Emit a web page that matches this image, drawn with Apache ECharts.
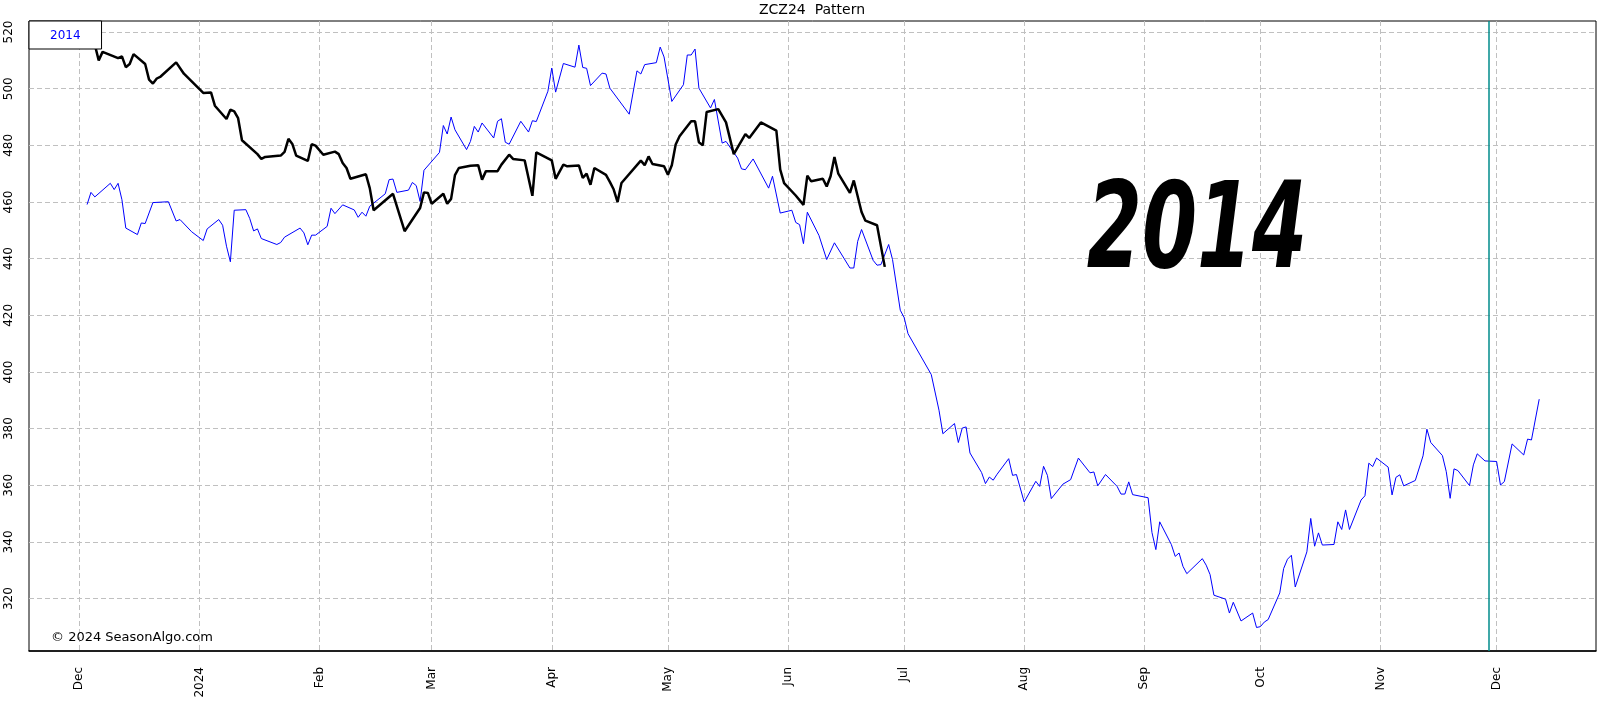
<!DOCTYPE html>
<html>
<head>
<meta charset="utf-8">
<title>ZCZ24 Pattern</title>
<script src="https://cdn.jsdelivr.net/npm/echarts@6/dist/echarts.min.js"></script>
<style>
  html, body { margin: 0; padding: 0; background: #fff; }
  #chart { width: 1604px; height: 709px; }
</style>
</head>
<body>
<div id="chart"></div>
<script>
// 2014 pattern, shifted onto the 2024 calendar
var blueDates = [
  '2023-12-03','2023-12-04','2023-12-05','2023-12-09','2023-12-10','2023-12-11','2023-12-12','2023-12-13',
  '2023-12-16','2023-12-17','2023-12-18','2023-12-20','2023-12-24','2023-12-26','2023-12-27','2023-12-30',
  '2024-01-02','2024-01-03','2024-01-06','2024-01-07','2024-01-08','2024-01-09','2024-01-10','2024-01-13',
  '2024-01-14','2024-01-15','2024-01-16','2024-01-17','2024-01-21','2024-01-22','2024-01-23','2024-01-27',
  '2024-01-28','2024-01-29','2024-01-30','2024-01-31','2024-02-03','2024-02-04','2024-02-05','2024-02-07',
  '2024-02-10','2024-02-11','2024-02-12','2024-02-13','2024-02-14','2024-02-18','2024-02-19','2024-02-20',
  '2024-02-21','2024-02-24','2024-02-25','2024-02-26','2024-02-27','2024-02-28','2024-03-03','2024-03-04',
  '2024-03-05','2024-03-06','2024-03-07','2024-03-10','2024-03-11','2024-03-12','2024-03-13','2024-03-14',
  '2024-03-17','2024-03-18','2024-03-19','2024-03-20','2024-03-21','2024-03-24','2024-03-26','2024-03-27',
  '2024-03-28','2024-03-31','2024-04-01','2024-04-02','2024-04-04','2024-04-07','2024-04-08','2024-04-09',
  '2024-04-10','2024-04-11','2024-04-14','2024-04-15','2024-04-16','2024-04-21','2024-04-23','2024-04-24',
  '2024-04-25','2024-04-28','2024-04-29','2024-04-30','2024-05-02','2024-05-05','2024-05-06','2024-05-07',
  '2024-05-08','2024-05-09','2024-05-12','2024-05-13','2024-05-15','2024-05-16','2024-05-19','2024-05-20',
  '2024-05-21','2024-05-23','2024-05-27','2024-05-28','2024-05-30','2024-06-02','2024-06-03','2024-06-04',
  '2024-06-05','2024-06-06','2024-06-09','2024-06-11','2024-06-13','2024-06-17','2024-06-18','2024-06-19',
  '2024-06-20','2024-06-23','2024-06-24','2024-06-25','2024-06-27','2024-06-28','2024-06-30','2024-07-01',
  '2024-07-02','2024-07-08','2024-07-10','2024-07-11','2024-07-14','2024-07-15','2024-07-16','2024-07-17',
  '2024-07-18','2024-07-21','2024-07-22','2024-07-23','2024-07-24','2024-07-25','2024-07-28','2024-07-29',
  '2024-07-30','2024-08-01','2024-08-04','2024-08-05','2024-08-06','2024-08-07','2024-08-08','2024-08-11',
  '2024-08-13','2024-08-15','2024-08-18','2024-08-19','2024-08-20','2024-08-22','2024-08-25','2024-08-26',
  '2024-08-27','2024-08-28','2024-08-29','2024-09-02','2024-09-03','2024-09-04','2024-09-05','2024-09-08',
  '2024-09-09','2024-09-10','2024-09-11','2024-09-12','2024-09-16','2024-09-17','2024-09-18','2024-09-19',
  '2024-09-22','2024-09-23','2024-09-24','2024-09-26','2024-09-29','2024-09-30','2024-10-01','2024-10-02',
  '2024-10-03','2024-10-06','2024-10-07','2024-10-08','2024-10-09','2024-10-10','2024-10-13','2024-10-14',
  '2024-10-15','2024-10-16','2024-10-17','2024-10-20','2024-10-21','2024-10-22','2024-10-23','2024-10-24',
  '2024-10-27','2024-10-28','2024-10-29','2024-10-30','2024-10-31','2024-11-03','2024-11-04','2024-11-05',
  '2024-11-06','2024-11-07','2024-11-10','2024-11-12','2024-11-13','2024-11-14','2024-11-17','2024-11-18',
  '2024-11-19','2024-11-20','2024-11-21','2024-11-24','2024-11-25','2024-11-26','2024-11-28','2024-12-01',
  '2024-12-02','2024-12-03','2024-12-05','2024-12-08','2024-12-09','2024-12-10','2024-12-12'
];
var blueValues = [
  459.1,463.4,461.8,466.6,464.4,466.6,460.8,450.8,
  448.5,452.6,452.4,459.8,460.1,453.3,453.8,449.5,
  446.4,450.5,453.8,451.8,444.4,438.9,457.1,457.3,
  454.2,449.8,450.5,447.1,445.0,445.7,447.6,450.8,
  449.1,444.9,448.3,448.3,451.4,457.8,455.9,459.0,
  457.2,454.6,456.4,455.0,458.5,462.9,467.9,468.1,
  463.4,464.2,466.9,465.8,460.2,471.2,477.5,487.0,
  484.0,490.0,485.5,478.5,481.4,486.7,484.7,487.9,
  482.6,488.5,489.4,481.1,480.4,488.5,484.7,488.7,
  488.4,499.1,507.3,498.8,508.9,507.6,515.4,507.5,
  507.2,501.1,505.5,505.2,500.2,491.0,506.3,505.2,
  508.5,509.2,514.7,511.2,495.5,501.4,511.9,511.9,
  514.0,500.2,493.2,496.2,480.8,481.4,475.5,471.7,
  471.4,475.2,464.9,469.1,456.1,457.1,452.8,452.0,
  445.3,456.4,448.2,439.7,445.6,436.7,436.7,446.1,
  450.3,439.4,437.7,437.9,445.0,439.7,421.8,419.2,
  413.5,399.1,386.5,378.2,381.8,375.1,380.2,380.6,
  371.4,364.5,360.6,362.9,361.8,363.9,369.4,363.5,
  363.8,354.1,361.4,359.6,366.7,363.5,355.3,360.4,
  362.0,369.6,364.4,364.7,359.8,363.8,359.6,356.9,
  356.9,361.2,356.7,355.6,343.3,337.3,347.1,339.1,
  334.9,336.1,331.4,328.8,334.1,331.8,328.5,321.2,
  319.8,314.9,318.7,312.1,314.9,309.8,310.1,311.7,
  312.6,322.0,330.6,333.9,335.3,324.1,336.5,348.3,
  338.5,343.2,338.9,339.1,347.1,344.4,351.3,344.4,
  354.8,356.3,367.8,366.6,369.6,366.4,356.6,362.8,
  363.7,359.8,361.7,370.4,379.8,375.1,370.5,364.8,
  355.4,365.8,365.2,359.9,367.2,371.1,368.6,368.4,
  360.1,361.3,374.6,370.7,376.3,376.0,390.4
];

// current contract ZCZ24
var blackDates = [
  '2023-12-05','2023-12-06','2023-12-07','2023-12-11','2023-12-12','2023-12-13','2023-12-14','2023-12-15',
  '2023-12-18','2023-12-19','2023-12-20','2023-12-21','2023-12-22','2023-12-26','2023-12-28','2024-01-02',
  '2024-01-04','2024-01-05','2024-01-08','2024-01-09','2024-01-10','2024-01-11','2024-01-12','2024-01-16',
  '2024-01-17','2024-01-18','2024-01-22','2024-01-23','2024-01-24','2024-01-25','2024-01-26','2024-01-29',
  '2024-01-30','2024-01-31','2024-02-02','2024-02-05','2024-02-06','2024-02-07','2024-02-08','2024-02-09',
  '2024-02-13','2024-02-14','2024-02-15','2024-02-20','2024-02-23','2024-02-27','2024-02-28','2024-02-29',
  '2024-03-01','2024-03-04','2024-03-05','2024-03-06','2024-03-07','2024-03-08','2024-03-11','2024-03-13',
  '2024-03-14','2024-03-15','2024-03-18','2024-03-19','2024-03-21','2024-03-22','2024-03-25','2024-03-27',
  '2024-03-28','2024-04-01','2024-04-02','2024-04-04','2024-04-05','2024-04-08','2024-04-09','2024-04-10',
  '2024-04-11','2024-04-12','2024-04-15','2024-04-16','2024-04-17','2024-04-18','2024-04-19','2024-04-24',
  '2024-04-25','2024-04-26','2024-04-27','2024-04-30','2024-05-01','2024-05-02','2024-05-03','2024-05-04',
  '2024-05-07','2024-05-08','2024-05-09','2024-05-10','2024-05-11','2024-05-14','2024-05-16','2024-05-18',
  '2024-05-21','2024-05-22','2024-05-25','2024-05-29','2024-05-30','2024-05-31','2024-06-03','2024-06-05',
  '2024-06-06','2024-06-07','2024-06-10','2024-06-11','2024-06-12','2024-06-13','2024-06-14','2024-06-17',
  '2024-06-18','2024-06-20','2024-06-21','2024-06-24','2024-06-26'
];
var blackValues = [
  515.5,510.0,513.0,510.8,511.4,507.6,508.7,512.2,
  508.7,503.2,501.8,503.6,504.3,509.3,505.3,498.5,
  498.7,494.0,489.3,492.6,492.0,489.6,481.8,476.9,
  475.2,475.9,476.4,477.7,482.3,480.5,476.4,474.5,
  480.4,479.9,476.7,477.8,476.9,473.8,472.0,468.2,
  469.8,464.9,457.1,462.9,449.7,457.9,463.4,463.2,
  459.4,462.9,459.4,461.1,469.5,472.0,472.8,473.0,
  467.9,470.9,470.9,473.2,476.7,475.2,474.7,462.2,
  477.5,474.7,468.2,473.2,472.6,472.9,468.5,470.0,
  466.1,472.0,469.6,467.1,464.4,460.0,466.7,474.6,
  473.0,476.1,473.4,472.6,469.6,473.0,480.3,483.2,
  488.5,488.5,481.1,480.0,491.8,492.8,488.1,476.9,
  484.0,482.6,488.1,485.2,471.4,466.7,462.3,459.0,
  469.3,467.3,468.2,465.5,469.1,475.9,470.0,463.2,
  467.6,456.5,453.4,451.8,437.1
];

var yTicks = [320, 340, 360, 380, 400, 420, 440, 460, 480, 500, 520];
var monthTicks = [
  '2023-12-01','2024-01-01','2024-02-01','2024-03-01','2024-04-01','2024-05-01','2024-06-01',
  '2024-07-01','2024-08-01','2024-09-01','2024-10-01','2024-11-01','2024-12-01'
];
var monthNames = ['Jan','Feb','Mar','Apr','May','Jun','Jul','Aug','Sep','Oct','Nov','Dec'];
var todayLine = '2024-11-29';

function toTime(s) {
  var p = s.split('-');
  return new Date(+p[0], +p[1] - 1, +p[2]).getTime();
}
function zip(dates, values) {
  return dates.map(function (d, i) { return [toTime(d), values[i]]; });
}

var chart = echarts.init(document.getElementById('chart'));
var font = 'DejaVu Sans';
var gridLine = { show: true, lineStyle: { color: '#c0c0c0', type: [5, 3], width: 1 } };

chart.setOption({
  animation: false,
  backgroundColor: '#fff',
  textStyle: { fontFamily: font },
  title: {
    text: 'ZCZ24  Pattern',
    left: 812,
    top: 3,
    padding: 0,
    textAlign: 'center',
    textStyle: { fontFamily: font, fontSize: 14, fontWeight: 'normal', color: '#000' }
  },
  legend: {
    left: 29,
    top: 21,
    padding: [8, 21, 7, 16],
    itemWidth: 0,
    itemHeight: 14,
    borderColor: '#000',
    borderWidth: 1,
    borderRadius: 0,
    backgroundColor: '#fff',
    selectedMode: false,
    z: 20,
    data: [{ name: '2014', icon: 'none' }],
    textStyle: { fontFamily: font, fontSize: 12, color: '#0000ff' }
  },
  grid: {
    left: 29, right: 8, top: 21, bottom: 58,
    show: true,
    borderColor: '#000',
    borderWidth: 1
  },
  xAxis: {
    type: 'value',
    min: new Date(2023, 10, 18).getTime(),
    max: new Date(2024, 11, 26, 16).getTime(),
    axisLine: { show: true, lineStyle: { color: '#000', width: 1.5 } },
    axisTick: { show: false, customValues: monthTicks.map(toTime) },
    axisLabel: {
      customValues: monthTicks.map(toTime),
      rotate: 90,
      margin: 16,
      fontFamily: font,
      fontSize: 12,
      color: '#000',
      formatter: function (v) {
        var d = new Date(v);
        return d.getMonth() === 0 ? String(d.getFullYear()) : monthNames[d.getMonth()];
      }
    },
    splitLine: gridLine
  },
  yAxis: {
    type: 'value',
    min: 301.5,
    max: 523.9,
    axisLine: { show: false },
    axisTick: { show: false, customValues: yTicks },
    axisLabel: {
      customValues: yTicks,
      rotate: 90,
      margin: 14,
      fontFamily: font,
      fontSize: 12,
      color: '#000'
    },
    splitLine: gridLine
  },
  series: [
    {
      name: '2014',
      type: 'line',
      data: zip(blueDates, blueValues),
      showSymbol: false,
      lineStyle: { color: '#0000ff', width: 1 },
      itemStyle: { color: '#0000ff' },
      z: 3,
      markLine: {
        silent: true,
        symbol: 'none',
        label: { show: false },
        lineStyle: { color: '#008b8b', width: 1.5, type: 'solid' },
        data: [{ xAxis: toTime(todayLine) }]
      }
    },
    {
      name: 'ZCZ24',
      type: 'line',
      data: zip(blackDates, blackValues),
      showSymbol: false,
      lineStyle: { color: '#000', width: 2.5 },
      itemStyle: { color: '#000' },
      z: 4
    }
  ],
  graphic: [
    {
      type: 'text',
      z: 5,
      x: 1197,
      y: 236,
      scaleX: 0.66,
      style: {
        text: '2014',
        font: 'italic bold 120px "DejaVu Sans"',
        fill: '#000',
        textAlign: 'center',
        textVerticalAlign: 'middle'
      }
    },
    {
      type: 'text',
      z: 5,
      x: 51,
      y: 638,
      style: {
        text: '\u00a9 2024 SeasonAlgo.com',
        font: '13px "DejaVu Sans"',
        fill: '#000',
        textVerticalAlign: 'middle'
      }
    }
  ]
});
</script>
</body>
</html>
